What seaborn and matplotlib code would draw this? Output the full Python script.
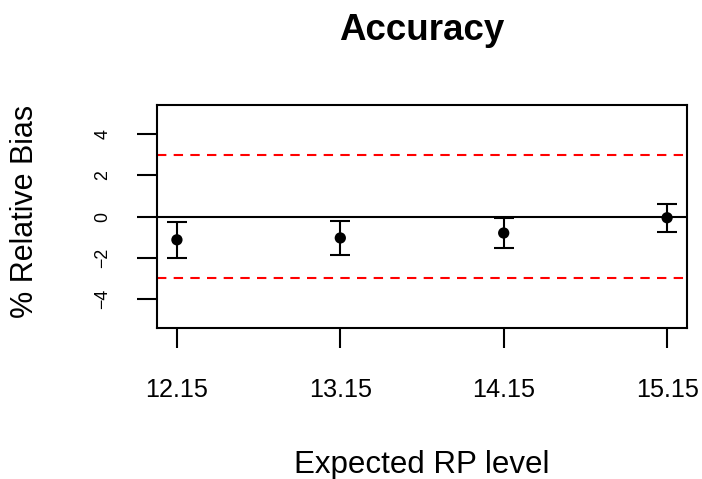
import matplotlib
matplotlib.use("Agg")
import matplotlib.pyplot as plt
import seaborn as sns
import pandas as pd

# Data
levels = [12.15, 13.15, 14.15, 15.15]
bias = [-1.13, -1.04, -0.80, -0.06]
lower = [-2.03, -1.85, -1.55, -0.77]
upper = [-0.27, -0.22, -0.05, 0.63]
limits = [-3, 3]
yticks = [-4, -2, 0, 2, 4]
xtick_labels = ["12.15", "13.15", "14.15", "15.15"]
ytick_labels = ["\u22124", "\u22122", "0", "2", "4"]

df = pd.DataFrame({"level": levels, "bias": bias, "lower": lower, "upper": upper})

sns.set_style("white")
plt.rcParams["font.family"] = ["Liberation Sans", "DejaVu Sans"]
plt.rcParams["text.color"] = "black"
plt.rcParams["xtick.color"] = "black"
plt.rcParams["ytick.color"] = "black"
plt.rcParams["axes.labelcolor"] = "black"

fig = plt.figure(figsize=(7.02, 4.79), dpi=100)
ax = fig.add_axes([0.2241, 0.3152, 0.7541, 0.4656])

lw = 1.5
ax.axhline(0, color="black", lw=lw, zorder=1)
for lim in limits:
    ax.axhline(lim, color="red", lw=lw, ls=(0, (4.5, 3.5)), zorder=1)

yerr = [df["bias"] - df["lower"], df["upper"] - df["bias"]]
ax.errorbar(df["level"], df["bias"], yerr=yerr, fmt="none", ecolor="black",
            elinewidth=lw, capsize=7.5, capthick=lw, zorder=2)
sns.scatterplot(data=df, x="level", y="bias", ax=ax, color="black", s=66,
                edgecolor="none", zorder=3, legend=False)

ax.set_xlim(12.03, 15.27)
ax.set_ylim(-5.408, 5.408)
ax.set_xticks(levels)
ax.set_xticklabels(xtick_labels, fontsize=18.2, color="black")
ax.set_yticks(yticks)
ax.set_yticklabels(ytick_labels, fontsize=12.8, color="black",
                   rotation=90, va="center")
ax.tick_params(axis="both", direction="out", length=14.4, width=lw, color="black",
               left=True, bottom=True)
ax.tick_params(axis="x", pad=21.6)
ax.tick_params(axis="y", pad=18.7)
for s in ax.spines.values():
    s.set_visible(True)
    s.set_color("black")
    s.set_linewidth(lw)
ax.set_xlabel("")
ax.set_ylabel("")

cx = (157.3 + 686.7) / 2 / 702
fig.text(cx, 1 - 40 / 479, "Accuracy", ha="center", va="baseline",
         fontsize=26.5, fontweight="bold", color="black")
fig.text(cx, 1 - 473.3 / 479, "Expected RP level", ha="center", va="baseline",
         fontsize=22.5, color="black")
fig.text(33.5 / 702, 1 - 211 / 479, "% Relative Bias", ha="center", va="baseline",
         rotation=90, rotation_mode="anchor", fontsize=22.0, color="black")

fig.savefig("out.png", dpi=100)
